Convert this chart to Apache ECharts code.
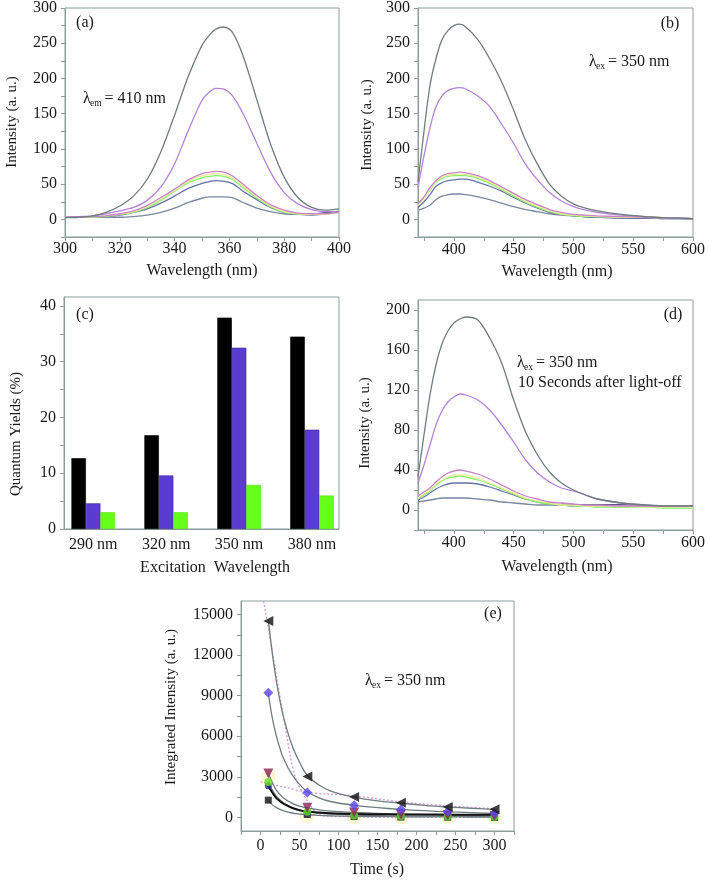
<!DOCTYPE html>
<html>
<head>
<meta charset="utf-8">
<script src="https://cdn.jsdelivr.net/npm/echarts@6/dist/echarts.min.js"></script>
<style>html,body{margin:0;padding:0;background:#fff;}#c{width:709px;height:881px;}</style>
</head>
<body>
<div id="c"></div>
<script>
// ---------- Panel (a): excitation spectra, lambda_em = 410 nm ----------
const aX = [300,305,310,315,320,325,330,335,340,345,350,353,355,358,361,365,370,375,380,385,390,395,400];
const aGray   = [2.4,3,5,10,19,33,57,96,148,203,247,263,270,273,266,232,170,107,60,31,17,13,15];
const aViolet = [3,4,5,8,12,17,27,46,79,126,169,182,186,185,176,150,108,67,38,22,14,11,11];
const aPink   = [3,3,4,5,8,12,20,31,43,56,65,67,68,67,62,50,34,21,13,9,8,8,10];
const aYellow = [3,3,4,5,7,11,18,29,41,54,62,64,65,64,59,47,32,19,11,8,7,7,10];
const aGreen  = [3,3,3,4,7,10,17,27,40,52,59,61,62,61,57,45,30,18,10,8,7,7,13];
const aBlue   = [3,3,3,4,6,10,15,23,33,44,51,54,55,54,51,40,28,17,10,8,7,8,11];
const aSlate  = [3,3,3,3,3,4,6,10,16,24,30,32,32,32,31,24,16,11,8,7,6,8,11];
const aNavy   = [3,3,3,null,null,null,null,null,null,null,null,null,null,null,null,null,null,null,null,null,7,9,11];

// ---------- Panel (b): emission spectra, lambda_ex = 350 nm ----------
const bX = [370,375,380,385,390,395,400,405,410,420,430,440,450,460,470,480,490,500,510,520,540,560,580,600];
const bGray   = [53,125,190,228,255,268,275,277,273,255,228,195,155,112,78,50,33,22,16,12,7,4,2,1];
const bViolet = [45,90,130,160,175,183,186,187,185,175,160,135,108,78,56,38,26,18,13,10,6,4,2,1];
const bPink   = [22,32,45,55,62,65,66,67,66,62,55,46,37,28,21,14,10,7,6,5,4,3,2,1];
const bYellow = [20,30,43,54,61,63,64,64,64,60,53,44,35,26,19,12,8,6,5,4,3,3,2,1];
const bGreen  = [22,31,42,53,58,61,62,62,62,58,51,42,33,24,17,11,7,5,4,4,3,3,2,1];
const bBlue   = [17,25,35,47,52,55,56,57,57,53,47,40,31,23,16,10,7,5,4,3,2,2,1,1];
const bSlate  = [13,16,20,28,33,35,36,36,35,32,28,23,18,14,11,8,6,5,4,3,2,2,1,1];
const bNavy   = [null,null,null,null,null,null,null,null,null,null,null,null,null,null,null,null,null,5,4,3,3,2,2,1];

// ---------- Panel (c): quantum yields ----------
const cCategories = ['290 nm','320 nm','350 nm','380 nm'];
const cBlack = [12.7,16.8,37.9,34.5];
const cBlue  = [4.6,9.6,32.5,17.8];
const cGreen = [3.0,3.0,7.9,6.0];

// ---------- Panel (d): 10 s after light-off ----------
const dX = bX;
const dGray   = [33,75,115,145,166,179,187,191,193,190,172,147,110,78,55,38,27,20,15,11,7,5,4,4];
const dViolet = [27,45,65,85,99,108,113,116,115,110,100,85,68,50,37,28,22,19,15,11,7,5,4,4];
const dPink   = [14,18,22,28,33,37,39,40,39,36,31,25,19,14,11,8,7,6,5,5,4,4,4,4];
const dYellow = [12,16,20,26,30,33,35,35,35,32,27,22,17,12,9,7,5,5,4,4,4,3,3,3];
const dGreen  = [11,15,19,25,29,32,33,34,33,30,26,21,16,11,8,6,5,4,4,3,3,3,2,2];
const dBlue   = [10,13,17,21,24,26,27,27,27,26,23,19,15,11,8,6,5,5,4,4,4,4,4,4];
const dSlate  = [8,9,10,11,12,12,12,12,12,11,10,8,7,6,5,5,5,4,4,4,4,4,4,4];
const dNavy   = [null,null,null,null,null,null,null,null,null,null,null,null,null,null,null,null,6,5,5,5,5,4,null,null];

// ---------- Panel (e): integrated intensity vs time ----------
const eT = [10,60,120,180,240,300];
const eTriLeft = [14530,3030,1520,1080,780,610];
const eDiamond = [9210,1850,910,590,420,300];
const eTriDown = [3250,710,370,220,170,100];
const eGreenC  = [2630,420,150,100,80,60];
const eNavyC   = [2340,320,120,80,60,50];
const eSquare  = [1280,220,70,30,20,10];
const eGlow    = [3000,150,60,40,30,20];
const eFitT = [10,15,20,25,30,40,50,60,75,90,120,150,180,210,240,270,300];
const eFitTri   = [14600,12200,10200,8600,7300,5400,4100,3100,2400,1950,1500,1230,1050,900,780,680,600];
const eFitDia   = [9200,7400,6100,5100,4300,3200,2450,1900,1450,1180,900,730,600,500,420,360,310];
const eFitDown  = [3250,2600,2050,1700,1420,1060,830,700,560,470,370,300,240,200,170,140,120];
const eFitCirc  = [2600,2050,1600,1300,1050,750,540,430,320,250,170,130,110,95,80,70,60];
const eFitBlack = [2350,1850,1450,1200,1000,720,540,440,360,310,260,240,225,215,210,205,200];
const eFitSq    = [1250,950,750,600,480,330,250,200,150,120,85,65,50,45,40,35,30];
const eDot1T = [4,10,20,30,38,45,55,63,72,85,120,180,240,300];
const eDot1  = [16000,14000,10600,7300,4600,2900,1700,1000,300,100,50,30,20,10];
const eDot2T = [0,30,60,90,120,180,240,300];
const eDot2  = [2630,2250,1850,1720,1600,1150,870,650];

// ---------- styling ----------
const SERIF = "'Liberation Serif', 'Times New Roman', Times, serif";
const AX = '#8f9c9c';
const TXT = '#1a1a1a';
const C = {gray:'#6f7d7e', violet:'#b383d6', pink:'#c883c8', yellow:'#ecec9c', green:'#88ec66', blue:'#6672a8', slate:'#7a87a3', navy:'#1c1c6c'};

const zip = (xs, ys) => xs.map((x, i) => [x, ys[i]]);
const range = (a, b, s) => { const r = []; for (let v = a; v <= b + 1e-9; v += s) r.push(+v.toFixed(6)); return r; };

function valAxis(gi, min, max, labels, ticks, margin, fmt) {
  return {
    type: 'value', gridIndex: gi, min, max,
    axisLine: {show: true, onZero: false, lineStyle: {color: AX, width: 1}},
    axisTick: {show: true, inside: false, length: 4, customValues: ticks, lineStyle: {color: AX}},
    axisLabel: {show: true, customValues: labels, margin, color: TXT, fontFamily: SERIF, fontSize: 16,
      formatter: fmt || (v => String(v))},
    splitLine: {show: false}
  };
}

const grids = [
  {left: 65, top: 7, width: 274, height: 230},
  {left: 418, top: 7, width: 275, height: 230},
  {left: 64, top: 297, width: 275, height: 232},
  {left: 418, top: 300, width: 275, height: 230},
  {left: 241, top: 601, width: 273, height: 230}
].map(g => Object.assign(g, {show: true, borderColor: AX, borderWidth: 1, backgroundColor: 'transparent'}));

const xAxes = [
  valAxis(0, 300, 400, range(300, 400, 20), range(300, 400, 10), 4),
  valAxis(1, 370, 600, range(400, 600, 50), range(375, 600, 25), 5),
  Object.assign(valAxis(2, 0.6, 4.37, [1,2,3,4], [], 8, v => cCategories[Math.round(v) - 1] || ''), {axisTick: {show: false}}),
  valAxis(3, 370, 600, range(400, 600, 50), range(375, 600, 25), 5),
  valAxis(4, -25, 325, range(0, 300, 50), range(-25, 325, 25), 7)
];
const yAxes = [
  valAxis(0, -25, 300, range(0, 300, 50), range(-25, 300, 25), 8),
  valAxis(1, -25, 300, range(0, 300, 50), range(-25, 300, 25), 8),
  valAxis(2, 0, 41.6, range(0, 40, 10), range(0, 40, 5), 8),
  valAxis(3, -20, 210, range(0, 200, 40), range(-20, 200, 20), 8),
  valAxis(4, -1000, 16000, range(0, 15000, 3000), range(0, 15000, 1500), 8)
];

const series = [];
function spec(i, xs, arrs) {
  const order = ['navy','slate','blue','green','yellow','pink','violet','gray'];
  order.forEach(k => {
    if (!arrs[k]) return;
    series.push({type: 'line', xAxisIndex: i, yAxisIndex: i, data: zip(xs, arrs[k]), showSymbol: false,
      smooth: 0.3, connectNulls: false, silent: true,
      lineStyle: {color: C[k], width: k === 'navy' ? 1.6 : 1.3}});
  });
}
spec(0, aX, {navy: aNavy, slate: aSlate, blue: aBlue, green: aGreen, yellow: aYellow, pink: aPink, violet: aViolet, gray: aGray});
spec(1, bX, {navy: bNavy, slate: bSlate, blue: bBlue, green: bGreen, yellow: bYellow, pink: bPink, violet: bViolet, gray: bGray});
spec(3, dX, {navy: dNavy, slate: dSlate, blue: dBlue, green: dGreen, yellow: dYellow, pink: dPink, violet: dViolet, gray: dGray});

// Panel c bars
const cPos = cCategories.map((_, i) => i + 1);
[[cBlack, '#000000', '#000000'], [cBlue, '#5a3cd2', '#3d2a9e'], [cGreen, '#66ff1a', '#55dd10']].forEach(([vals, col, bc]) => {
  series.push({type: 'bar', xAxisIndex: 2, yAxisIndex: 2, data: zip(cPos, vals), barWidth: 14.5, barGap: '0%',
    itemStyle: {color: col, borderColor: bc, borderWidth: 0.6}, silent: true});
});

// Panel e
series.push({type: 'scatter', xAxisIndex: 4, yAxisIndex: 4, data: zip(eT, eGlow), symbol: 'circle', symbolSize: 15,
  itemStyle: {color: 'rgba(255,240,160,0.55)'}, silent: true, z: 1});
[[eDot1T, eDot1], [eDot2T, eDot2]].forEach(([xs, ys]) => {
  series.push({type: 'line', xAxisIndex: 4, yAxisIndex: 4, data: zip(xs, ys), showSymbol: false, smooth: 0.3, silent: true,
    lineStyle: {color: '#d79ad0', width: 1.3, type: [2, 2]}, z: 2});
});
[[eFitTri, C.gray, 1.3], [eFitDia, C.gray, 1.3], [eFitDown, C.gray, 1.3], [eFitCirc, C.gray, 1.3], [eFitSq, C.gray, 1.3], [eFitBlack, '#111111', 2]].forEach(([ys, col, w]) => {
  series.push({type: 'line', xAxisIndex: 4, yAxisIndex: 4, data: zip(eFitT, ys), showSymbol: false, smooth: 0.4, silent: true,
    lineStyle: {color: col, width: w}, z: 3});
});
[
  [eSquare, 'rect', 0, 7, '#111111'],
  [eNavyC, 'circle', 0, 7, '#24248c'],
  [eGreenC, 'circle', 0, 8, '#66dd22'],
  [eTriDown, 'triangle', 180, 10, '#8b2256'],
  [eDiamond, 'diamond', 0, 10, '#5a44ee'],
  [eTriLeft, 'triangle', 90, 10, '#111111']
].forEach(([ys, sym, rot, size, col]) => {
  series.push({type: 'scatter', xAxisIndex: 4, yAxisIndex: 4, data: zip(eT, ys), symbol: sym, symbolRotate: rot,
    symbolSize: size, itemStyle: {color: col}, silent: true, z: 5});
});

// ---------- texts ----------
const F16 = '16px ' + SERIF;
const F15 = '15px ' + SERIF;
const F9 = '9.5px ' + SERIF;
function txt(x, y, s, font, align, rot) {
  return {type: 'text', x, y, rotation: rot || 0, z: 10, silent: true,
    style: {text: s, font: font || F16, fill: TXT, textAlign: align || 'left', textVerticalAlign: 'middle', align: align || 'left', verticalAlign: 'middle'}};
}
function lambda(x, y, sub, rest) {
  return [txt(x, y, 'λ', F16), txt(x + 7, y + 4, sub, F9), txt(x + (sub === 'em' ? 21.5 : 19), y, rest, F16)];
}
const graphics = [
  txt(85, 23, '(a)', F16, 'center'),
  txt(670, 24, '(b)', F16, 'center'),
  txt(85, 315, '(c)', F16, 'center'),
  txt(673, 315, '(d)', F16, 'center'),
  txt(493, 614, '(e)', F16, 'center'),
  ...lambda(83, 99, 'em', '= 410 nm'),
  ...lambda(589, 62, 'ex', '= 350 nm'),
  ...lambda(517, 363, 'ex', '= 350 nm'),
  txt(518, 383, '10 Seconds after light-off', F16),
  ...lambda(365, 681, 'ex', '= 350 nm'),
  // axis titles
  txt(12, 122, 'Intensity (a. u.)', F15, 'center', Math.PI / 2),
  txt(367, 125, 'Intensity (a. u.)', F15, 'center', Math.PI / 2),
  txt(16, 434, 'Quantum Yields (%)', F15, 'center', Math.PI / 2),
  txt(365, 423, 'Intensity (a. u.)', F15, 'center', Math.PI / 2),
  txt(171, 707, 'Integrated Intensity (a. u.)', F15, 'center', Math.PI / 2),
  txt(202, 271, 'Wavelength (nm)', F16, 'center'),
  txt(557, 272, 'Wavelength (nm)', F16, 'center'),
  txt(215, 568, 'Excitation  Wavelength', F16, 'center'),
  txt(557, 567, 'Wavelength (nm)', F16, 'center'),
  txt(377, 870, 'Time (s)', F16, 'center')
];

const chart = echarts.init(document.getElementById('c'), null, {renderer: 'canvas'});
chart.setOption({
  animation: false,
  backgroundColor: '#ffffff',
  grid: grids,
  xAxis: xAxes,
  yAxis: yAxes,
  series,
  graphic: {elements: graphics}
});
</script>
</body>
</html>
